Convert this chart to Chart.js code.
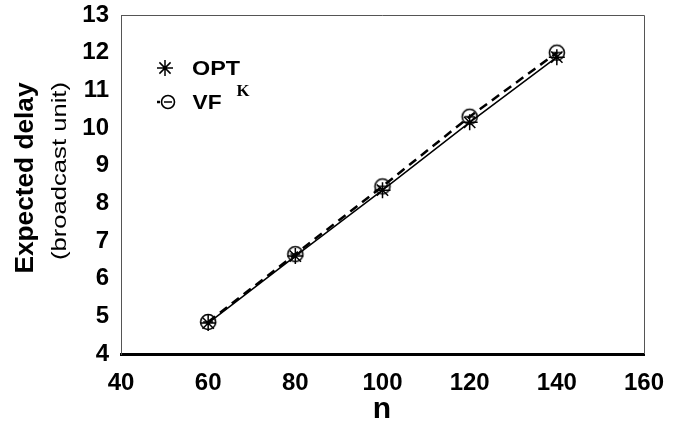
<!DOCTYPE html>
<html>
<head>
<meta charset="utf-8">
<script src="https://cdn.jsdelivr.net/npm/chart.js@4"></script>
<style>
  html, body { margin: 0; padding: 0; background: #fff; }
  #wrap { width: 682px; height: 444px; }
</style>
</head>
<body>
<div id="wrap"><canvas id="chart" width="682" height="444"></canvas></div>
<script>
const nValues = [60, 80, 100, 120, 140];
const optDelay = [4.82, 6.6, 8.35, 10.15, 11.88];
const vfDelay = [4.85, 6.65, 8.45, 10.3, 12.0];
const xTicks = [40, 60, 80, 100, 120, 140, 160];
const yTicks = [4, 5, 6, 7, 8, 9, 10, 11, 12, 13];

const FONT = '"Liberation Sans", Arial, sans-serif';

function toPoints(xs, ys) {
    const pts = [];
    for (let i = 0; i < xs.length; i++) {
        pts.push({ x: xs[i], y: ys[i] });
    }
    return pts;
}

// text squeezed/stretched to a given width, centred on (cx, cy)
function fitText(g, text, cx, cy, width) {
    const w = g.measureText(text).width;
    g.save();
    g.translate(cx, cy);
    g.scale(width / w, 1);
    g.textAlign = 'center';
    g.fillText(text, 0, 0);
    g.restore();
}

// circle with a bar through it
function makeCircleMarker() {
    const c = document.createElement('canvas');
    c.width = 20;
    c.height = 20;
    const g = c.getContext('2d');
    g.strokeStyle = '#000';
    g.lineWidth = 1.6;
    g.beginPath();
    g.arc(10, 10, 7.5, 0, Math.PI * 2);
    g.stroke();
    g.beginPath();
    g.moveTo(5, 10);
    g.lineTo(15, 10);
    g.stroke();
    return c;
}
const circleMarker = makeCircleMarker();

const extras = {
    id: 'extras',
    afterDraw(chart) {
        const ctx = chart.ctx;
        const a = chart.chartArea;
        ctx.save();

        // frame top and right
        ctx.strokeStyle = '#555';
        ctx.lineWidth = 1;
        ctx.beginPath();
        ctx.moveTo(a.left, a.top + 0.5);
        ctx.lineTo(a.right + 0.5, a.top + 0.5);
        ctx.lineTo(a.right + 0.5, a.bottom);
        ctx.stroke();

        // legend
        ctx.fillStyle = '#000';
        ctx.strokeStyle = '#000';
        ctx.textBaseline = 'middle';
        ctx.lineWidth = 1.5;
        const sx = 165, sy = 68, r = 8;
        ctx.beginPath();
        ctx.moveTo(sx - r, sy); ctx.lineTo(sx + r, sy);
        ctx.moveTo(sx, sy - r); ctx.lineTo(sx, sy + r);
        ctx.moveTo(sx - r * 0.7, sy - r * 0.7); ctx.lineTo(sx + r * 0.7, sy + r * 0.7);
        ctx.moveTo(sx - r * 0.7, sy + r * 0.7); ctx.lineTo(sx + r * 0.7, sy - r * 0.7);
        ctx.stroke();
        ctx.font = 'bold 20px ' + FONT;
        fitText(ctx, 'OPT', 216, 69, 48);

        ctx.lineWidth = 2.5;
        ctx.beginPath();
        ctx.moveTo(157, 102); ctx.lineTo(160, 102);
        ctx.stroke();
        ctx.lineWidth = 1.6;
        ctx.beginPath();
        ctx.arc(168, 102, 6.5, 0, Math.PI * 2);
        ctx.moveTo(164, 102); ctx.lineTo(172, 102);
        ctx.stroke();
        fitText(ctx, 'VF', 207, 103, 29);
        ctx.font = 'bold 16px "Liberation Serif", "Times New Roman", serif';
        fitText(ctx, 'K', 243, 92, 13);

        // y title
        ctx.save();
        ctx.translate(26, 178);
        ctx.rotate(-Math.PI / 2);
        ctx.font = 'bold 26px ' + FONT;
        fitText(ctx, 'Expected delay', 0, 0, 191);
        ctx.restore();
        ctx.save();
        ctx.translate(60, 171);
        ctx.rotate(-Math.PI / 2);
        ctx.font = '21px ' + FONT;
        fitText(ctx, '(broadcast unit)', 0, 0, 178);
        ctx.restore();

        // x title
        ctx.textAlign = 'center';
        ctx.font = 'bold 30px ' + FONT;
        ctx.fillText('n', 382, 410);

        ctx.restore();
    }
};

const ctx = document.getElementById('chart').getContext('2d');
new Chart(ctx, {
    type: 'line',
    data: {
        datasets: [
            {
                label: 'OPT',
                data: toPoints(nValues, optDelay),
                borderColor: '#000',
                backgroundColor: '#000',
                borderWidth: 1.5,
                pointStyle: 'star',
                pointRadius: 8,
                pointBorderWidth: 1.5,
                pointBorderColor: '#000'
            },
            {
                label: 'VF',
                data: toPoints(nValues, vfDelay),
                borderColor: '#000',
                backgroundColor: '#000',
                borderWidth: 2.5,
                borderDash: [9, 6],
                pointStyle: circleMarker,
                pointRadius: 8
            }
        ]
    },
    options: {
        responsive: false,
        animation: false,
        layout: { padding: { top: 15, right: 38, left: 0, bottom: 0 } },
        plugins: {
            legend: { display: false },
            tooltip: { enabled: false }
        },
        scales: {
            x: {
                type: 'linear',
                min: 40,
                max: 160,
                afterBuildTicks: (scale) => { scale.ticks = xTicks.map(v => ({ value: v })); },
                grid: { display: false, drawTicks: false },
                border: { display: true, color: '#000', width: 3 },
                ticks: {
                    color: '#000',
                    padding: 15,
                    maxRotation: 0,
                    font: { family: FONT, size: 24, weight: 'bold' }
                },
                afterFit: (scale) => { scale.height = 90; }
            },
            y: {
                type: 'linear',
                min: 4,
                max: 13,
                afterBuildTicks: (scale) => { scale.ticks = yTicks.map(v => ({ value: v })); },
                grid: { display: false, drawTicks: false },
                border: { display: true, color: '#555', width: 1 },
                ticks: {
                    color: '#000',
                    padding: 12,
                    font: { family: FONT, size: 24, weight: 'bold' }
                },
                afterFit: (scale) => {
                    scale.width = 121;
                    scale.paddingTop = 0;
                    scale.paddingBottom = 0;
                }
            }
        }
    },
    plugins: [extras]
});
</script>
</body>
</html>
